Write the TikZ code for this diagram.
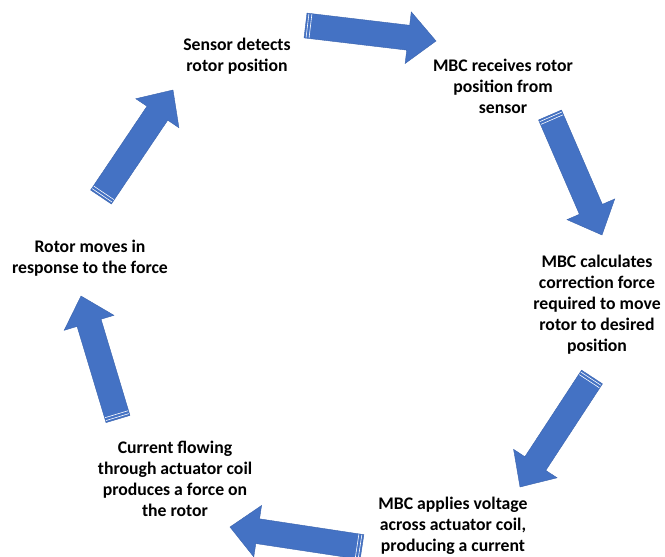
\documentclass[tikz,border=0pt]{standalone}
\usepackage{fontspec}
\setmainfont{Carlito}
\usetikzlibrary{calc}

\definecolor{arrowblue}{HTML}{4472C4}
\definecolor{arrowedge}{HTML}{3A63AD}

\tikzset{
  steptext/.style = {align=center, inner sep=0pt, font=\bfseries\fontsize{17.7}{21}\selectfont},
  blockarrow/.style = {fill=arrowblue, draw=arrowedge, line width=0.4pt, line join=miter},
  stripe/.style = {draw=white, line width=0.6pt}
}

% striped block arrow, from tail coordinate #1 to tip coordinate #2
\newcommand{\stripedarrow}[2]{
  \coordinate (hb) at ($(#2)!28pt!(#1)$);
  \draw[blockarrow]
    ($(#1)!12.5pt!90:(#2)$) -- ($(hb)!12.5pt!90:(#2)$) -- ($(hb)!26pt!90:(#2)$)
    -- (#2) -- ($(hb)!26pt!-90:(#2)$) -- ($(hb)!12.5pt!-90:(#2)$)
    -- ($(#1)!12.5pt!-90:(#2)$) -- cycle;
  \foreach \d in {2pt, 5pt}{
    \coordinate (sp) at ($(#1)!\d!(#2)$);
    \draw[stripe] ($(sp)!12pt!90:(#2)$) -- ($(sp)!12pt!-90:(#2)$);
  }
}

\begin{document}
\begin{tikzpicture}[x=1pt, y=-1pt]
  \useasboundingbox (0,0) rectangle (665,557);
  \clip (0,0) rectangle (665,557);

  % the six steps
  \node[steptext] (sense)   at (237,56)  {Sensor detects\\rotor position};
  \node[steptext] (receive) at (503,86)  {MBC receives rotor\\position from\\sensor};
  \node[steptext] (correct) at (597,305) {MBC calculates\\correction force\\required to move\\rotor to desired\\position};
  \node[steptext] (apply)   at (453,526) {MBC applies voltage\\across actuator coil,\\producing a current};
  \node[steptext] (current) at (175,479) {Current flowing\\through actuator coil\\produces a force on\\the rotor};
  \node[steptext] (moves)   at (90,258)  {Rotor moves in\\response to the force};

  % tails and tips of the arrows
  \coordinate (tail1) at (305.5,25.5); \coordinate (tip1) at (436,41);
  \coordinate (tail2) at (550,115);    \coordinate (tip2) at (602,235);
  \coordinate (tail3) at (592,377);    \coordinate (tip3) at (520,487);
  \coordinate (tail4) at (362,547);    \coordinate (tip4) at (230,527);
  \coordinate (tail5) at (118,419);    \coordinate (tip5) at (81,296);
  \coordinate (tail6) at (101,197);    \coordinate (tip6) at (173,90);

  % loops over the 6 arrows
  \foreach \k in {1,...,6}{
    \stripedarrow{tail\k}{tip\k}
  }
\end{tikzpicture}
\end{document}
